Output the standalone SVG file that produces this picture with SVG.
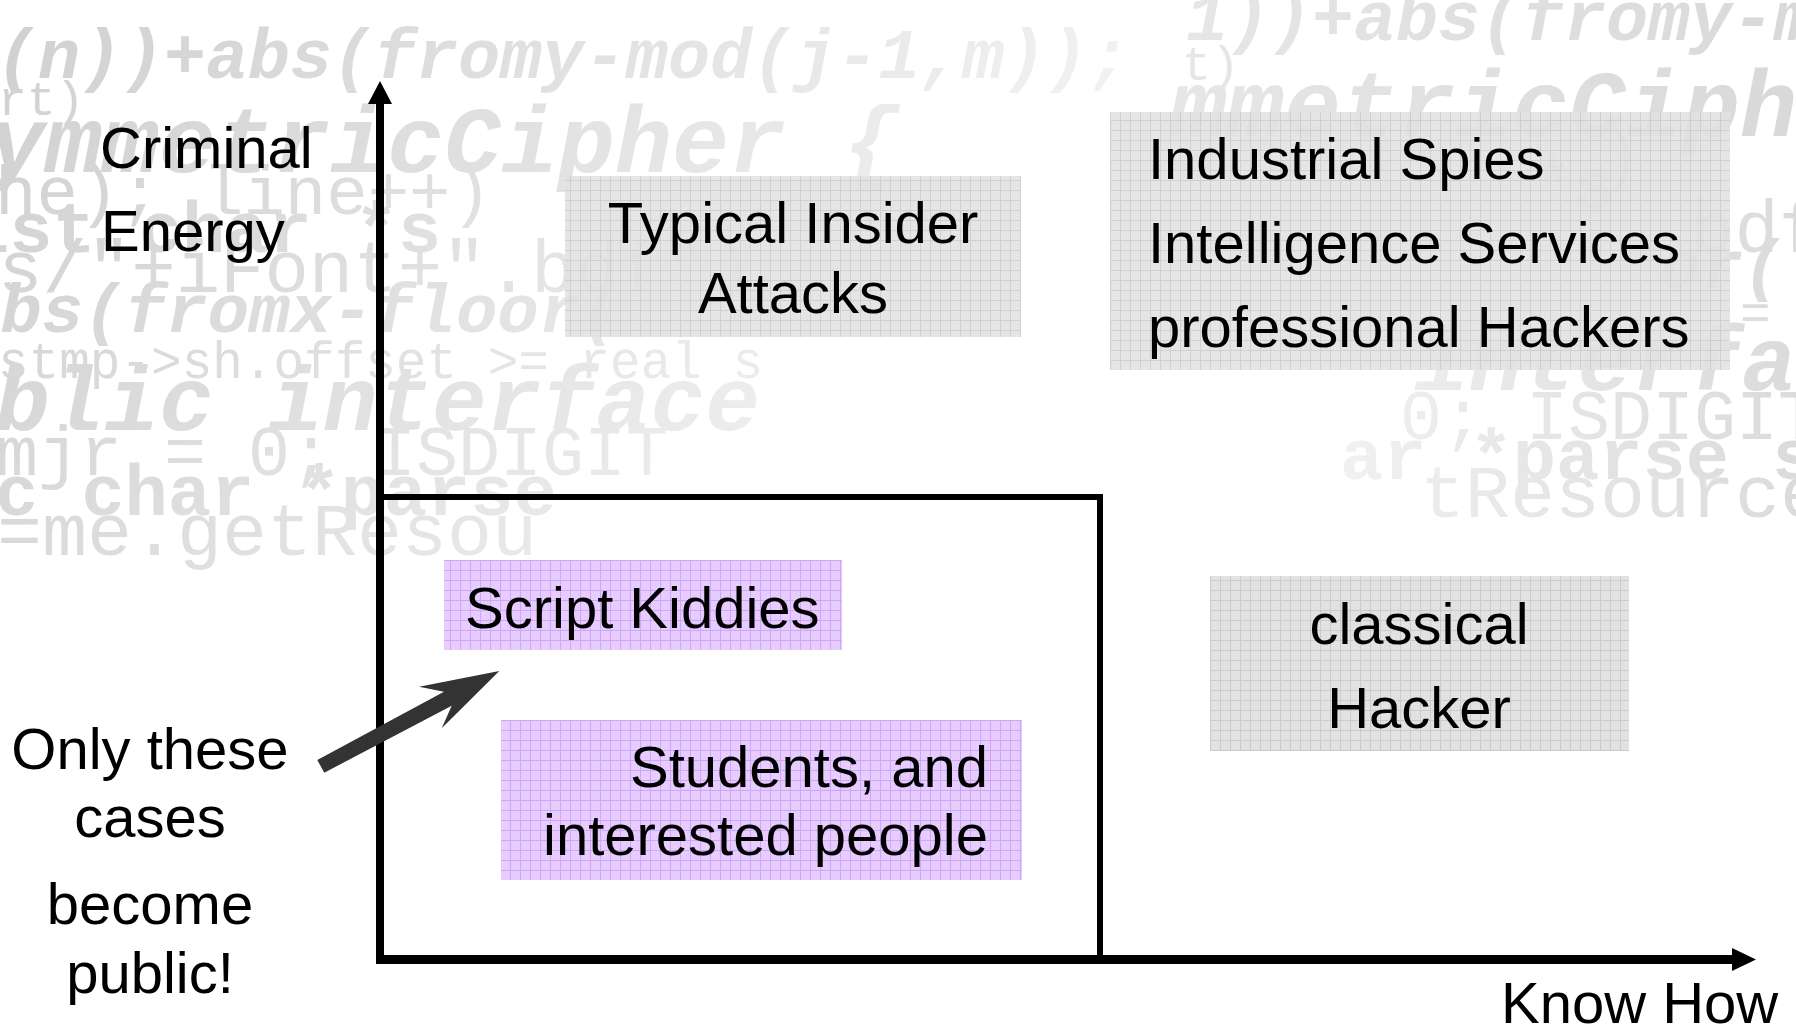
<svg xmlns="http://www.w3.org/2000/svg" width="1796" height="1028" viewBox="0 0 1796 1028">
<style>
.lbl{font-family:"Liberation Sans",Arial,sans-serif;font-size:58px;fill:#000}
.code{font-family:"Liberation Mono","Courier New",monospace}
.bi{font-weight:bold;font-style:italic}
.b{font-weight:bold}
.r{font-weight:normal}
.ax{stroke:#000;fill:none}
</style>
<defs>
<linearGradient id="fadeL" gradientUnits="userSpaceOnUse" x1="0" y1="0" x2="1100" y2="650">
<stop offset="0" stop-color="#d0d0d0"/>
<stop offset="0.45" stop-color="#e3e3e3"/>
<stop offset="0.8" stop-color="#f2f2f2"/>
<stop offset="1" stop-color="#fbfbfb"/>
</linearGradient>
<linearGradient id="fadeR" gradientUnits="userSpaceOnUse" x1="1250" y1="0" x2="1796" y2="0">
<stop offset="0" stop-color="#f6f6f6"/>
<stop offset="0.5" stop-color="#e7e7e7"/>
<stop offset="1" stop-color="#dbdbdb"/>
</linearGradient>
<linearGradient id="fadeRT" gradientUnits="userSpaceOnUse" x1="1150" y1="0" x2="1796" y2="0">
<stop offset="0" stop-color="#e7e7e7"/>
<stop offset="1" stop-color="#d9d9d9"/>
</linearGradient>
<pattern id="gridGray" patternUnits="userSpaceOnUse" width="10" height="10">
<rect width="10" height="10" fill="#e2e2e2"/>
<path d="M0 0.5H10M0.5 0V10" stroke="#cbcbcb" stroke-width="1"/>
</pattern>
<pattern id="gridPurple" patternUnits="userSpaceOnUse" width="10" height="10">
<rect width="10" height="10" fill="#e6ccff"/>
<path d="M0 0.5H10M0.5 0V10" stroke="#cfa5f6" stroke-width="1"/>
</pattern>
</defs>
<rect width="1796" height="1028" fill="#ffffff"/>
<g id="background-code" class="code">
<g fill="url(#fadeL)">
<text class="bi" x="-4" y="78" font-size="70">(n))+abs(fromy-mod(j-1,m));</text>
<text class="r" x="-2" y="115" font-size="48">rt)</text>
<text class="bi" x="-12" y="172" font-size="95">ymmetricCipher {</text>
<text class="r" x="-5" y="214" font-size="69">he); line++)</text>
<text class="b" x="-34" y="252" font-size="72">ist char *s</text>
<text class="r" x="-2" y="292" font-size="74">s/"+iFont+".bdf")</text>
<text class="bi" x="-41" y="332" font-size="69">abs(fromx-floor(</text>
<text class="r" x="-2" y="378" font-size="51">stmp-&gt;sh.offset &gt;= real s</text>
<text class="bi" x="-114" y="430" font-size="91">public interface</text>
<text class="r" x="-4" y="475" font-size="70">mjr = 0; ISDIGIT</text>
<text class="b" x="-5" y="515" font-size="72">c char *parse</text>
<text class="r" x="-3" y="555" font-size="75">=me.getResou</text>
</g>
<g fill="url(#fadeRT)">
<text class="bi" x="1186" y="40" font-size="70">1))+abs(fromy-mod</text>
<text class="r" x="1182" y="80" font-size="48">t)</text>
<text class="bi" x="1170" y="136" font-size="95">mmetricCiph</text>
</g>
<g fill="url(#fadeR)">
<text class="r" x="1600" y="178" font-size="69">)</text>
<text class="b" x="1530" y="208" font-size="72">*s</text>
<text class="r" x="1690" y="252" font-size="74">bdf</text>
<text class="bi" x="1660" y="288" font-size="69">or(</text>
<text class="r" x="1740" y="330" font-size="51">=</text>
<text class="bi" x="1414" y="390" font-size="91">interface</text>
<text class="r" x="1400" y="439" font-size="70">0; ISDIGIT</text>
<text class="b" x="1340" y="479" font-size="72">ar *parse s</text>
<text class="r" x="1420" y="517" font-size="75">tResource</text>
</g>
</g>
<g id="node-typical-insider">
<rect x="565" y="176" width="456" height="161" fill="url(#gridGray)" opacity="0.9"/>
<text class="lbl" x="793" y="243" text-anchor="middle">Typical Insider</text>
<text class="lbl" x="793" y="313" text-anchor="middle">Attacks</text>
</g>
<g id="node-industrial">
<rect x="1110" y="112" width="620" height="258" fill="url(#gridGray)" opacity="0.9"/>
<text class="lbl" x="1148" y="179">Industrial Spies</text>
<text class="lbl" x="1148" y="263">Intelligence Services</text>
<text class="lbl" x="1148" y="347">professional Hackers</text>
</g>
<g id="node-script-kiddies">
<rect x="444" y="560" width="398" height="90" fill="url(#gridPurple)"/>
<text class="lbl" x="465" y="628">Script Kiddies</text>
</g>
<g id="node-students">
<rect x="501" y="720" width="521" height="160" fill="url(#gridPurple)"/>
<text class="lbl" x="988" y="787" text-anchor="end">Students, and</text>
<text class="lbl" x="988" y="855" text-anchor="end">interested people</text>
</g>
<g id="node-classical-hacker">
<rect x="1210" y="576" width="419" height="175" fill="url(#gridGray)"/>
<text class="lbl" x="1419" y="644" text-anchor="middle">classical</text>
<text class="lbl" x="1419" y="728" text-anchor="middle">Hacker</text>
</g>
<g id="label-criminal-energy">
<text class="lbl" x="100" y="168">Criminal</text>
<text class="lbl" x="101" y="251">Energy</text>
</g>
<g id="label-only-these">
<text class="lbl" x="150" y="769" text-anchor="middle">Only these</text>
<text class="lbl" x="150" y="837" text-anchor="middle">cases</text>
<text class="lbl" x="150" y="924" text-anchor="middle">become</text>
<text class="lbl" x="150" y="993" text-anchor="middle">public!</text>
</g>
<g id="label-know-how">
<text class="lbl" x="1501" y="1023">Know How</text>
</g>
<g id="connectors">
<path class="ax" d="M380 100V964" stroke-width="8"/>
<polygon points="380,81 392,104 368,104" fill="#000"/>
<path class="ax" d="M376 959.5H1736" stroke-width="9"/>
<polygon points="1756,959.5 1732,948 1732,971" fill="#000"/>
<path class="ax" d="M380 497H1100V960" stroke-width="6"/>
<polygon points="317.3,760 444,691.7 419,686.7 499.3,671 441.7,728.3 451.7,705.7 324.3,772.7" fill="#333333"/>
</g>
</svg>
